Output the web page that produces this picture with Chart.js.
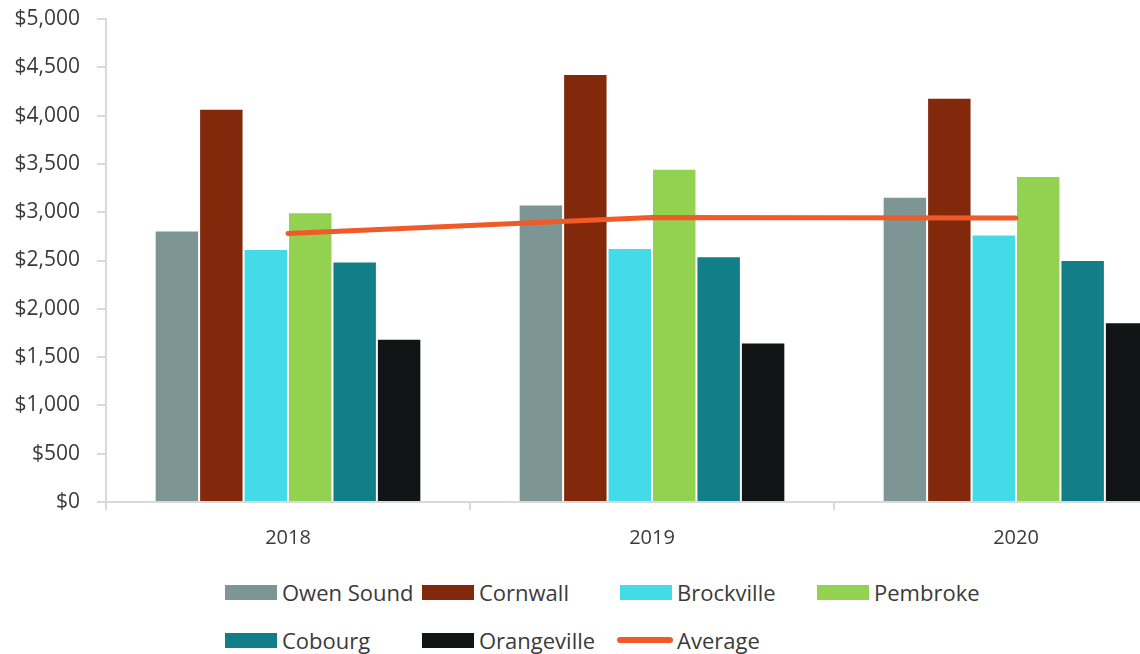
<!DOCTYPE html>
<html>
<head>
<meta charset="utf-8">
<script src="https://cdn.jsdelivr.net/npm/chart.js@4.4.1/dist/chart.umd.min.js"></script>
<style>
  html, body { margin: 0; padding: 0; width: 1140px; height: 654px; overflow: hidden; background: #ffffff; }
  #wrap { position: relative; width: 1200px; height: 654px; }
  #chart { position: absolute; left: 0; top: 0; }
  .legend-item { position: absolute; height: 30px; display: flex; align-items: center;
    font-family: 'Open Sans', sans-serif; font-size: 22px; color: #3a3a3a; white-space: nowrap; }
  .legend-swatch { width: 52px; height: 15px; margin-right: 5px; }
  .legend-line { width: 56px; height: 6px; border-radius: 3px; margin-left: -3px; margin-right: 4px; }
</style>
</head>
<body>
<div id="wrap">
  <canvas id="chart" width="1200" height="560"></canvas>
  <div id="legend"></div>
</div>
<script>
// Years on the category axis
const categories = ['2018', '2019', '2020'];

// Values per municipality, one entry per year
const owenSound   = [2810, 3080, 3160];
const cornwall    = [4070, 4430, 4185];
const brockville  = [2620, 2630, 2770];
const pembroke    = [3000, 3450, 3375];
const cobourg     = [2490, 2545, 2505];
const orangeville = [1690, 1650, 1860];
const average     = [2780, 2945, 2940];

// Value axis labels, from $0 up to $5,000 in steps of $500
const yTickLabels = ['$0', '$500', '$1,000', '$1,500', '$2,000', '$2,500',
                     '$3,000', '$3,500', '$4,000', '$4,500', '$5,000'];

const seriesNames  = ['Owen Sound', 'Cornwall', 'Brockville', 'Pembroke', 'Cobourg', 'Orangeville'];
const seriesValues = [owenSound, cornwall, brockville, pembroke, cobourg, orangeville];
const seriesColors = ['#7d9695', '#82290c', '#42dbe7', '#93d151', '#117e88', '#111516'];
const averageColor = '#f05a28';

const axisColor = '#d9d9d9';
const textColor = '#3a3a3a';

Chart.defaults.font.family = "'Open Sans', sans-serif";
Chart.defaults.color = textColor;

const barSets = seriesNames.map((name, i) => ({
  type: 'bar',
  label: name,
  data: seriesValues[i],
  backgroundColor: seriesColors[i],
  borderColor: 'rgba(255,255,255,0.15)',
  borderWidth: 1,
  categoryPercentage: 0.7326,
  barPercentage: 1,
  order: 1
}));

const lineSet = {
  type: 'line',
  label: 'Average',
  data: average,
  borderColor: averageColor,
  backgroundColor: averageColor,
  borderWidth: 5,
  borderCapStyle: 'round',
  borderJoinStyle: 'round',
  pointRadius: 0,
  tension: 0,
  fill: false,
  order: 0
};

new Chart(document.getElementById('chart'), {
  type: 'bar',
  data: { labels: categories, datasets: [...barSets, lineSet] },
  options: {
    responsive: false,
    animation: false,
    layout: { padding: { left: 0, right: 2, top: 19, bottom: 0 } },
    plugins: { legend: { display: false }, tooltip: { enabled: false } },
    scales: {
      x: {
        offset: true,
        grid: { display: true, offset: true, drawOnChartArea: false, drawTicks: true,
                tickLength: 8, color: axisColor, lineWidth: 2 },
        border: { display: true, color: axisColor, width: 2 },
        ticks: { font: { size: 20 }, color: textColor, padding: 16, maxRotation: 0 },
        afterFit: (scale) => { scale.height = 58; }
      },
      y: {
        min: 0,
        max: 5000,
        ticks: {
          stepSize: 500,
          font: { size: 21 },
          color: textColor,
          padding: 17,
          callback: (value, index) => yTickLabels[index]
        },
        grid: { display: true, drawOnChartArea: false, drawTicks: true,
                tickLength: 9, color: axisColor, lineWidth: 2 },
        border: { display: true, color: axisColor, width: 2 },
        afterFit: (scale) => {
          scale.width = 106;
          // keep only half a label of head room; the outer padding handles the rest
          scale.paddingTop = 12;
          scale.paddingBottom = 12;
        }
      }
    }
  }
});

// Legend laid out in fixed columns below the plot
const legendCols = [225, 422, 620, 817];
const legendRows = [577, 625];
const legend = document.getElementById('legend');
const legendEntries = seriesNames.map((n, i) => ({ name: n, color: seriesColors[i], line: false }))
  .concat([{ name: 'Average', color: averageColor, line: true }]);
legendEntries.forEach((entry, i) => {
  const item = document.createElement('div');
  item.className = 'legend-item';
  item.style.left = legendCols[i % 4] + 'px';
  item.style.top = legendRows[Math.floor(i / 4)] + 'px';
  const mark = document.createElement('span');
  mark.className = entry.line ? 'legend-line' : 'legend-swatch';
  mark.style.background = entry.color;
  const text = document.createElement('span');
  text.textContent = entry.name;
  item.appendChild(mark);
  item.appendChild(text);
  legend.appendChild(item);
});
</script>
</body>
</html>
